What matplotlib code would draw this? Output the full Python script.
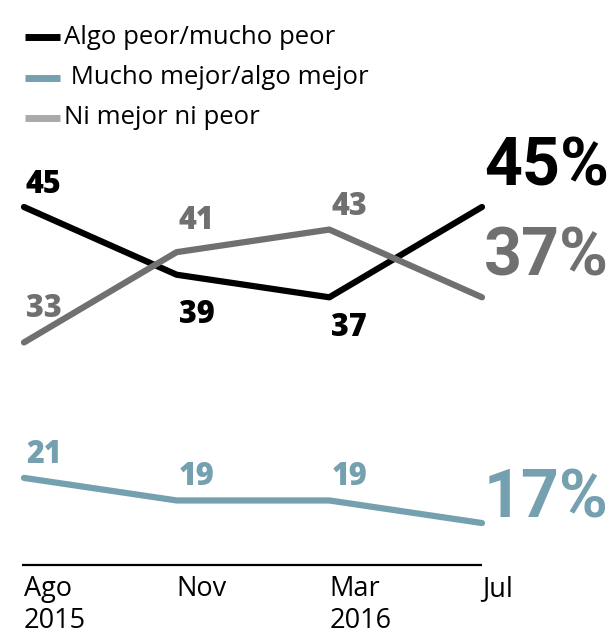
import numpy as np
import matplotlib.pyplot as plt
from matplotlib import font_manager
from matplotlib.transforms import blended_transform_factory

# survey: how will the economy be (percent)
months = ["Ago", "Nov", "Mar", "Jul"]
years = ["2015", "", "2016", ""]
peor = [45, 39, 37, 45]        # Algo peor/mucho peor
mejor = [21, 19, 19, 17]       # Mucho mejor/algo mejor
igual = [33, 41, 43, 37]       # Ni mejor ni peor

c_peor = "#000000"
c_mejor = "#74a0b0"
c_igual = "#707070"

names = {f.name for f in font_manager.fontManager.ttflist}
txt_font = "Open Sans" if "Open Sans" in names else "DejaVu Sans"
big_font = "Roboto" if "Roboto" in names else txt_font

fig = plt.figure(figsize=(6.11, 6.35), dpi=100)
ax = fig.add_axes([0, 0, 1, 1])
ax.set_xlim(-0.157, 3.845)
ax.set_ylim(7.08, 63.34)
ax.axis("off")

x = np.arange(len(months))
series = [(peor, c_peor), (igual, c_igual), (mejor, c_mejor)]
for vals, col in series:
    ax.plot(x, vals, color=col, lw=4.5, solid_capstyle="round", solid_joinstyle="round")

# point labels: pixel offsets of the baseline
off_peor = [14, -48, -39]
off_igual = [25, 23, 15]
off_mejor = [15, 15, 15]
for vals, col, offs in [(peor, c_peor, off_peor), (igual, c_igual, off_igual),
                        (mejor, c_mejor, off_mejor)]:
    for i in range(3):
        ax.annotate(str(vals[i]), (x[i], vals[i]), xytext=(2, offs[i]),
                    textcoords="offset pixels", ha="left", va="baseline",
                    fontsize=22, fontweight=800, color=col, family=txt_font)

# big end labels, shrunk to fit the right margin
fig.canvas.draw()
rend = fig.canvas.get_renderer()
big = []
for vals, col, dy in [(peor, c_peor, 22), (igual, c_igual, 22), (mejor, c_mejor, 6)]:
    t = ax.annotate(f"{vals[-1]}%", (x[-1], vals[-1]), xytext=(2, dy),
                    textcoords="offset pixels", ha="left", va="baseline",
                    family=big_font, fontweight="bold", fontsize=68, color=col)
    big.append(t)
wmax = max(t.get_window_extent(rend).width for t in big)
if wmax > 125:
    for t in big:
        t.set_fontsize(68 * 125 / wmax)

# baseline and month labels
ax.plot([22 / 611, 482 / 611], [70 / 635, 70 / 635], color="black", lw=1.6,
        transform=ax.transAxes, solid_capstyle="butt")
tr = blended_transform_factory(ax.transData, ax.transAxes)
for i in range(len(months)):
    ax.text(x[i], 39 / 635, months[i], transform=tr, ha="left", va="baseline",
            fontsize=19.5, family=txt_font)
    ax.text(x[i], 7 / 635, years[i], transform=tr, ha="left", va="baseline",
            fontsize=19.5, family=txt_font)

# legend
leg = [("Algo peor/mucho peor", c_peor), (" Mucho mejor/algo mejor", c_mejor),
       ("Ni mejor ni peor", "#aaaaaa")]
for k, (lab, col) in enumerate(leg):
    yy = 1 - (37 + k * 40.5) / 635
    ax.plot([25 / 611, 60 / 611], [yy, yy], color=col, lw=5, transform=ax.transAxes,
            solid_capstyle="butt")
    ax.text(64 / 611, yy, lab, transform=ax.transAxes, ha="left", va="center",
            fontsize=18.5, family=txt_font)

fig.savefig("out.png", dpi=100)
